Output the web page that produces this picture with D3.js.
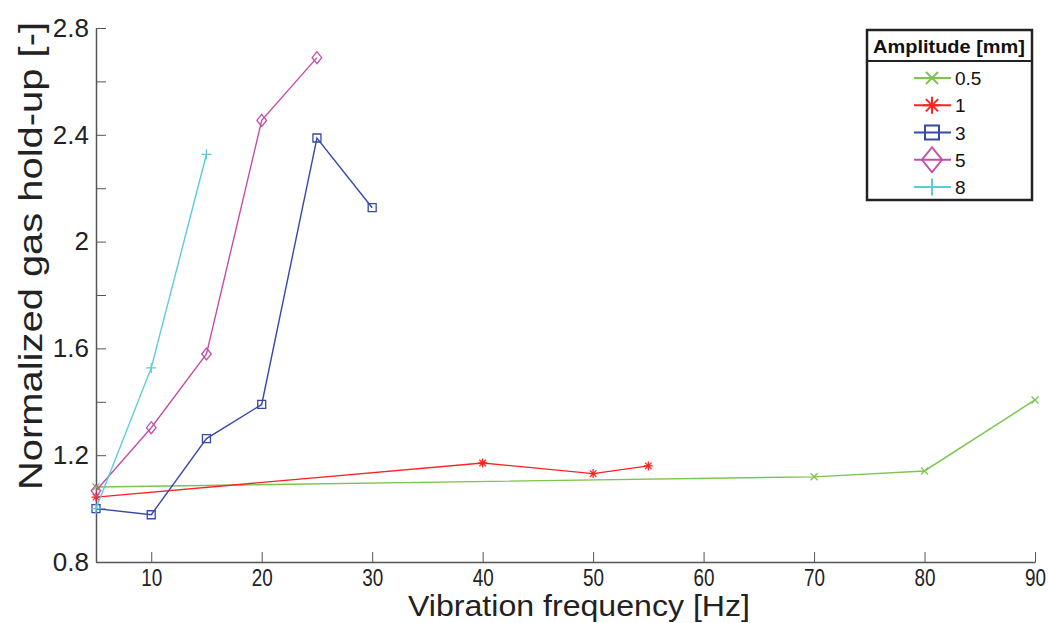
<!DOCTYPE html>
<html>
<head>
<meta charset="utf-8">
<script src="https://cdn.jsdelivr.net/npm/d3@7"></script>
<style>
  body { margin: 0; background: #fff; }
  text { font-family: "Liberation Sans", Arial, sans-serif; }
</style>
</head>
<body>
<div id="chart"></div>
<script>
// data
var amplitudes = ["0.5", "1", "3", "5", "8"];
var freq05 = [5, 70, 80, 90];
var hold05 = [1.081, 1.119, 1.141, 1.407];
var freq1 = [5, 40, 50, 55];
var hold1 = [1.043, 1.171, 1.131, 1.160];
var freq3 = [5, 10, 15, 20, 25, 30];
var hold3 = [1.000, 0.977, 1.262, 1.390, 2.388, 2.127];
var freq5 = [5, 10, 15, 20, 25];
var hold5 = [1.067, 1.303, 1.579, 2.454, 2.689];
var freq8 = [5, 10, 15];
var hold8 = [1.000, 1.527, 2.327];
var xTicks = [10, 20, 30, 40, 50, 60, 70, 80, 90];
var yTicks = [0.8, 1.0, 1.2, 1.4, 1.6, 1.8, 2.0, 2.2, 2.4, 2.6, 2.8];
var yLabels = [0.8, 1.2, 1.6, 2.0, 2.4, 2.8];

var colors = ["#7cc550", "#ff2222", "#3748a8", "#c24fab", "#5ecadb"];
var markerTypes = ["times", "asterisk", "square", "diamond", "plus"];

var svgWidth = 1048;
var svgHeight = 623;

var svg = d3.select("#chart")
  .append("svg")
  .attr("width", svgWidth)
  .attr("height", svgHeight);

var xScale = d3.scaleLinear().domain([5, 90]).range([96, 1035]);
var yScale = d3.scaleLinear().domain([0.8, 2.8]).range([562, 28]);

// marker paths (stroked, MATLAB style)
function markerPath(type, s) {
  var p = d3.path();
  if (type == "times") {
    p.moveTo(-s, -s); p.lineTo(s, s);
    p.moveTo(-s, s); p.lineTo(s, -s);
  } else if (type == "plus") {
    p.moveTo(-s, 0); p.lineTo(s, 0);
    p.moveTo(0, -s); p.lineTo(0, s);
  } else if (type == "asterisk") {
    p.moveTo(-s, 0); p.lineTo(s, 0);
    p.moveTo(0, -s); p.lineTo(0, s);
    var d = s * 0.72;
    p.moveTo(-d, -d); p.lineTo(d, d);
    p.moveTo(-d, d); p.lineTo(d, -d);
  } else if (type == "square") {
    p.rect(-s, -s, 2 * s, 2 * s);
  } else if (type == "diamond") {
    var h = s * 1.25;
    p.moveTo(0, -h); p.lineTo(s, 0); p.lineTo(0, h); p.lineTo(-s, 0); p.closePath();
  }
  return p.toString();
}
var chartSize = { times: 3.5, asterisk: 4.5, square: 4, diamond: 4.8, plus: 5 };
var legendSize = { times: 6, asterisk: 8.5, square: 7, diamond: 10, plus: 8.5 };

// axes
var axisColor = "#555";
var textColor = "#222";

var bottomAxis = d3.axisBottom(xScale).tickValues(xTicks).tickSize(-10).tickPadding(8).tickSizeOuter(0);
var xAxisG = svg.append("g")
  .attr("transform", "translate(0," + yScale(0.8) + ")")
  .call(bottomAxis);
xAxisG.select(".domain").attr("stroke", axisColor).attr("stroke-width", 1.5);
xAxisG.selectAll(".tick line").attr("stroke", axisColor).attr("stroke-width", 1);
xAxisG.selectAll(".tick text")
  .attr("fill", textColor)
  .style("font-size", "23px")
  .attr("textLength", 21)
  .attr("lengthAdjust", "spacingAndGlyphs");

var leftAxis = d3.axisLeft(yScale).tickValues(yTicks).tickSize(-10).tickPadding(7).tickSizeOuter(0)
  .tickFormat(function(d) {
    var show = yLabels.some(function(v) { return Math.abs(v - d) < 1e-6; });
    return show ? d3.format("")(+d.toFixed(1)) : "";
  });
var yAxisG = svg.append("g")
  .attr("transform", "translate(" + xScale(5) + ",0)")
  .call(leftAxis);
yAxisG.select(".domain").attr("stroke", axisColor).attr("stroke-width", 1.5);
yAxisG.selectAll(".tick line").attr("stroke", axisColor).attr("stroke-width", 1);
yAxisG.selectAll(".tick text")
  .attr("fill", textColor)
  .style("font-size", "26px");

// axis titles
svg.append("text")
  .attr("x", 579)
  .attr("y", 616)
  .attr("text-anchor", "middle")
  .attr("fill", textColor)
  .style("font-size", "30px")
  .attr("textLength", 342)
  .attr("lengthAdjust", "spacingAndGlyphs")
  .text("Vibration frequency [Hz]");

svg.append("text")
  .attr("transform", "translate(42,256) rotate(-90)")
  .attr("text-anchor", "middle")
  .attr("fill", textColor)
  .style("font-size", "34px")
  .attr("textLength", 468)
  .attr("lengthAdjust", "spacingAndGlyphs")
  .text("Normalized gas hold-up [-]");

// series
var series = [
  { freq: freq05, hold: hold05 },
  { freq: freq1, hold: hold1 },
  { freq: freq3, hold: hold3 },
  { freq: freq5, hold: hold5 },
  { freq: freq8, hold: hold8 }
];

var line = d3.line()
  .x(function(d) { return xScale(d[0]); })
  .y(function(d) { return yScale(d[1]); });

series.forEach(function(s, i) {
  var pts = s.freq.map(function(f, j) { return [f, s.hold[j]]; });
  var g = svg.append("g");
  g.append("path")
    .datum(pts)
    .attr("d", line)
    .attr("fill", "none")
    .attr("stroke", colors[i])
    .attr("stroke-width", 1.4);
  g.selectAll("path.mk")
    .data(pts)
    .enter()
    .append("path")
    .attr("class", "mk")
    .attr("transform", function(d) { return "translate(" + xScale(d[0]) + "," + yScale(d[1]) + ")"; })
    .attr("d", markerPath(markerTypes[i], chartSize[markerTypes[i]]))
    .attr("fill", "none")
    .attr("stroke", colors[i])
    .attr("stroke-width", 1.3);
});

// legend
var legend = svg.append("g");
legend.append("rect")
  .attr("x", 867).attr("y", 30)
  .attr("width", 165).attr("height", 170)
  .attr("fill", "#fff")
  .attr("stroke", "#222")
  .attr("stroke-width", 2.5);
legend.append("line")
  .attr("x1", 867).attr("x2", 1032)
  .attr("y1", 61).attr("y2", 61)
  .attr("stroke", "#222")
  .attr("stroke-width", 2);
legend.append("text")
  .attr("x", 949).attr("y", 53)
  .attr("text-anchor", "middle")
  .attr("fill", "#111")
  .style("font-size", "19px")
  .style("font-weight", "bold")
  .attr("textLength", 152)
  .attr("lengthAdjust", "spacingAndGlyphs")
  .text("Amplitude [mm]");

var legendY = d3.scalePoint().domain(amplitudes).range([78, 187]);

var entries = legend.selectAll("g.entry")
  .data(amplitudes)
  .enter()
  .append("g")
  .attr("class", "entry")
  .attr("transform", function(d) { return "translate(0," + legendY(d) + ")"; });

entries.append("line")
  .attr("x1", 914).attr("x2", 951)
  .attr("stroke", function(d, i) { return colors[i]; })
  .attr("stroke-width", 2);
entries.append("path")
  .attr("transform", "translate(932,0)")
  .attr("d", function(d, i) { return markerPath(markerTypes[i], legendSize[markerTypes[i]]); })
  .attr("fill", "none")
  .attr("stroke", function(d, i) { return colors[i]; })
  .attr("stroke-width", 2);
entries.append("text")
  .attr("x", 955)
  .attr("y", 7)
  .attr("fill", "#111")
  .style("font-size", "19px")
  .text(function(d) { return d; });
</script>
</body>
</html>
